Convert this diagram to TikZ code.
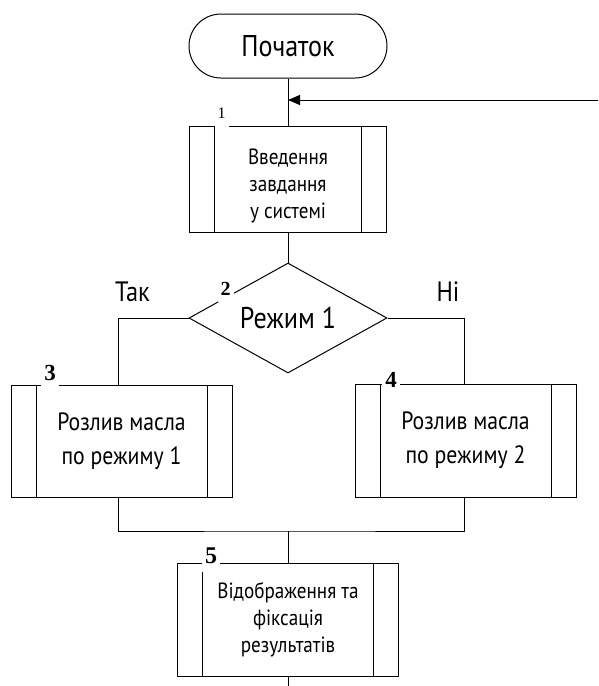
\documentclass[tikz,border=0pt]{standalone}
\usepackage{fontspec}
\setmainfont[FakeStretch=0.87]{PT Sans}
\newfontfamily\numfont{Liberation Serif}
\usetikzlibrary{shapes.geometric,arrows.meta}
\begin{document}
\begin{tikzpicture}[x=1pt,y=-1pt,
  line width=1pt,
  every node/.style={inner sep=0pt},
  terminal/.style={draw, rounded corners=32pt, minimum width=198pt,
    minimum height=64pt, font=\fontsize{30}{34}\selectfont},
  procbox/.style={draw, fill=white, align=center,
    path picture={
      \draw[line width=1pt]
        ([xshift=25pt]path picture bounding box.north west) --
        ([xshift=25pt]path picture bounding box.south west);
      \draw[line width=1pt]
        ([xshift=-25pt]path picture bounding box.north east) --
        ([xshift=-25pt]path picture bounding box.south east);
    }},
  smalltext/.style={font=\fontsize{22}{27}\selectfont},
  bigtext/.style={font=\fontsize{25}{34}\selectfont},
  decision/.style={draw, diamond, aspect=1.8, minimum width=198pt,
    minimum height=110pt, font=\fontsize{30}{34}\selectfont},
  branch/.style={font=\fontsize{28}{30}\selectfont},
  num/.style={fill=white, anchor=base, inner xsep=3pt, inner ysep=1pt},
  arrowtip/.style={-{Triangle[length=12pt,width=10pt]}}
]
\useasboundingbox (0,0) rectangle (598,686);

% blocks
\node[terminal] (start) at (288,46) {Початок};
\node[procbox, minimum width=197pt, minimum height=106pt,
  label={[smalltext, align=center, yshift=-7pt]center:Введення\\завдання\\у системі}]
  (b1) at (288,179) {};
\node[decision] (dec) at (288,318) {Режим 1};
\node[procbox, bigtext, minimum width=221pt, minimum height=112pt]
  (b3) at (121.5,441) {Розлив масла\\по режиму 1};
\node[procbox, bigtext, minimum width=221pt, minimum height=113pt]
  (b4) at (465.5,440.5) {Розлив масла\\по режиму 2};
\node[procbox, smalltext, minimum width=221pt, minimum height=113pt]
  (b5) at (288,619.5) {Відображення та\\фіксація\\результатів};

% branch labels
\node[branch] (yes) at (132.5,292) {Так};
\node[branch] (no) at (448,292) {Ні};

% connectors
\coordinate (ret) at (598,100);
\coordinate (merge) at (288,531);
\coordinate (out) at (288,686);
\draw (start.south) -- (b1.north);
\draw[arrowtip] (ret) -- (ret -| start.south);
\draw (b1.south) -- (dec.north);
\draw (dec.west) -| ([xshift=-3.5pt]b3.north);
\draw (dec.east) -| ([xshift=-1.5pt]b4.north);
\draw ([xshift=-3.5pt]b3.south) |- (merge) -| ([xshift=-1.5pt]b4.south);
\draw (merge) -- (b5.north);
\draw (b5.south) -- (out);

% block numbers
\node[num, font=\numfont\fontsize{16}{16}\selectfont, text height=11pt, text depth=10pt]
  (n1) at (221.5,118) {1};
\node[num, font=\numfont\bfseries\fontsize{20}{20}\selectfont, text height=14pt, text depth=6pt]
  (n2) at (225.5,295) {2};
\node[num, font=\numfont\bfseries\fontsize{23}{23}\selectfont, text height=16pt, text depth=8pt]
  (n3) at (50,380) {3};
\node[num, font=\numfont\bfseries\fontsize{23}{23}\selectfont, text height=16pt, text depth=5pt]
  (n4) at (391,387) {4};
\node[num, font=\numfont\bfseries\fontsize{24}{24}\selectfont, text height=17pt, text depth=8pt]
  (n5) at (211,563) {5};
\end{tikzpicture}
\end{document}
